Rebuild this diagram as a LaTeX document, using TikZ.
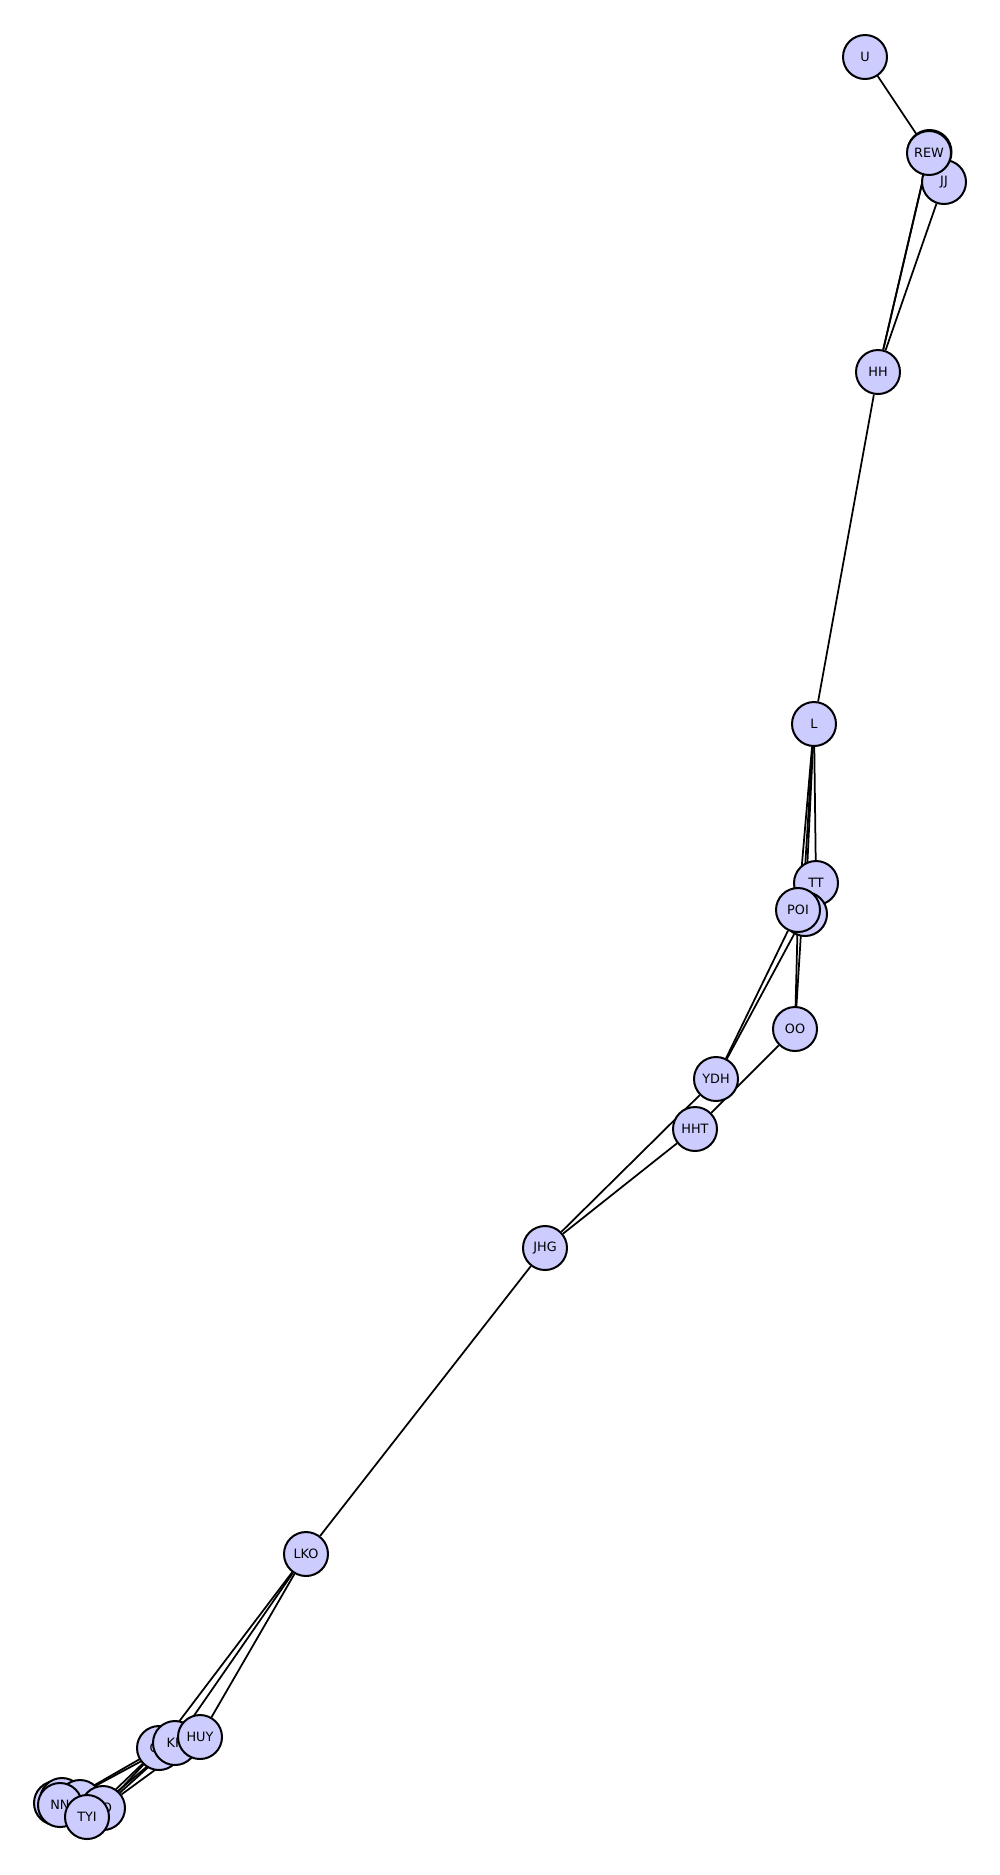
\documentclass[tikz,border=0pt]{standalone}
\usepackage{fontspec}
\setmainfont{DejaVu Sans}
\usetikzlibrary{backgrounds}

\begin{document}
\begin{tikzpicture}[
    x=0.2mm, y=-0.2mm,
    vert/.style={circle, draw=black, line width=0.4mm, fill={rgb,255:red,204;green,204;blue,255}, minimum size=8.8mm, inner sep=0pt, font=\fontsize{7.3}{8}\selectfont},
    link/.style={line width=0.35mm, black}
]
\useasboundingbox (0,0) rectangle (1000,1875);

% Nodes
\node[vert] (jj) at (944,182) {JJ};
\node[vert] (rew2) at (929.5,152) {};
\node[vert] (rew) at (929,153) {REW};
\node[vert] (u) at (865,57) {U};
\node[vert] (hh) at (878,372) {HH};
\node[vert] (l) at (814,724) {L};
\node[vert] (tt) at (816,883) {TT};
\node[vert] (x) at (805,914) {};
\node[vert] (poi) at (798,910) {POI};
\node[vert] (oo) at (795,1029) {OO};
\node[vert] (ydh) at (716,1079) {YDH};
\node[vert] (hht) at (695,1129) {HHT};
\node[vert] (jhg) at (545,1248) {JHG};
\node[vert] (lko) at (306,1554) {LKO};
\node[vert] (ok) at (159,1748) {OK};
\node[vert] (kk) at (175,1743) {KK};
\node[vert] (huy) at (200,1737) {HUY};
\node[vert] (nn2) at (56,1803) {};
\node[vert] (nn3) at (62,1800) {};
\node[vert] (nb) at (80,1802) {};
\node[vert] (po) at (103,1808) {PO};
\node[vert] (nn) at (60,1805) {NN};
\node[vert] (tyi) at (87,1817) {TYI};

% Edges
\begin{pgfonlayer}{background}
\draw[link] (u) -- (rew);
\draw[link] (rew) -- (hh);
\draw[link] (rew2) -- (hh);
\draw[link] (jj) -- (hh);
\draw[link] (hh) -- (l);
\draw[link] (l) -- (tt);
\draw[link] (l) -- (poi);
\draw[link] (l) -- (x);
\draw[link] (l) -- (oo);
\draw[link] (poi) -- (oo);
\draw[link] (poi) -- (ydh);
\draw[link] (x) -- (ydh);
\draw[link] (ydh) -- (jhg);
\draw[link] (hht) -- (jhg);
\draw[link] (oo) -- (hht);
\draw[link] (jhg) -- (lko);
\draw[link] (lko) -- (ok);
\draw[link] (lko) -- (kk);
\draw[link] (lko) -- (huy);
\draw[link] (ok) -- (nn);
\draw[link] (ok) -- (tyi);
\draw[link] (ok) -- (po);
\draw[link] (kk) -- (nn);
\draw[link] (kk) -- (tyi);
\draw[link] (kk) -- (po);
\draw[link] (huy) -- (po);
\end{pgfonlayer}

\end{tikzpicture}
\end{document}
